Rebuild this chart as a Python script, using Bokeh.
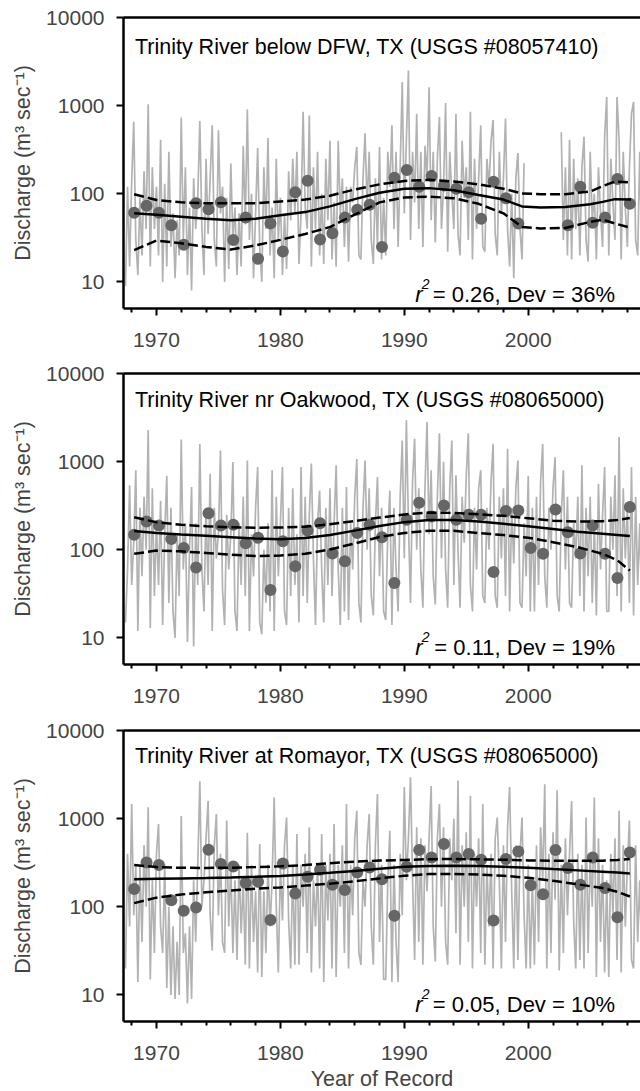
import numpy as np
from bokeh.plotting import figure
from bokeh.models import Range1d, FixedTicker, PrintfTickFormatter, LinearAxis, Label
from bokeh.layouts import column
from bokeh.embed import file_html
from bokeh.resources import INLINE

nan = float("nan")
FONT = "Liberation Sans"

# ---------------- data ----------------
# daily discharge trace (m3/s), read off as 6 samples per year starting 1967.5
DAILY_START = 1967.5
DAILY_PER_YEAR = 6

dfw_daily = [
    9, 120, 15, 140, 655, 30,        # 1968
    12, 90, 20, 180, 40, 1040,       # 1969
    15, 200, 40, 120, 20, 410,       # 1970
    10, 130, 15, 300, 25, 60,        # 1971
    11, 50, 20, 735, 30, 200,        # 1972
    12, 70, 8, 150, 40, 90,          # 1973
    670, 40, 12, 250, 35, 150,       # 1974
    600, 30, 15, 525, 60, 120,       # 1975
    10, 90, 14, 220, 30, 70,         # 1976
    12, 60, 15, 350, 45, 905,        # 1977
    30, 100, 11, 60, 330, 25,        # 1978
    10, 200, 40, 430, 20, 70,        # 1979
    11, 250, 30, 90, 12, 60,         # 1980
    14, 180, 50, 250, 60, 300,       # 1981
    16, 60, 850, 70, 40, 775,        # 1982
    15, 200, 40, 300, 20, 100,       # 1983
    16, 250, 50, 400, 18, 80,        # 1984
    15, 400, 60, 150, 25, 120,       # 1985
    17, 120, 80, 200, 340, 20,       # 1986
    18, 150, 485, 70, 300, 30,       # 1987
    16, 150, 25, 340, 18, 90,        # 1988
    20, 300, 120, 600, 40, 300,      # 1989
    25, 200, 1860, 60, 400, 2500,    # 1990
    30, 300, 80, 810, 40, 300,       # 1991
    25, 350, 150, 1620, 50, 300,     # 1992
    28, 250, 745, 40, 120, 1070,     # 1993
    22, 300, 100, 40, 810, 35,       # 1994
    20, 400, 90, 200, 30, 850,       # 1995
    18, 250, 40, 150, 600, 25,       # 1996
    22, 250, 120, 400, 685, 35,      # 1997
    20, 300, 60, 150, 715, 40,       # 1998
    15, 100, 11, 150, 290, 40,       # 1999
    18, 222, nan, nan, nan, nan,     # 2000
    nan, nan, nan, nan, nan, nan,    # 2001
    nan, nan, nan, nan, nan, nan,    # 2002
    nan, 500, 30, 200, 20, 410,      # 2003
    18, 250, 40, 150, 20, 200,       # 2004
    445, 30, 17, 300, 50, 100,       # 2005
    18, 200, 60, 25, 445, 1250,      # 2006
    20, 250, 80, 30, 1250, 400,      # 2007
    18, 300, 70, 25, 200, 810,       # 2008
    1100, 30, 20, 300, 20, 100,      # 2009
]

oak_daily = [
    15, 60, 540, 40, 120, 800,       # 1968
    12, 300, 50, 400, 100, 2290,     # 1969
    13, 500, 30, 200, 40, 360,       # 1970
    14, 150, 690, 25, 300, 20,       # 1971
    10, 150, 30, 1780, 60, 200,      # 1972
    9, 100, 515, 8, 200, 40,         # 1973
    1590, 60, 20, 300, 40, 730,      # 1974
    12, 300, 80, 150, 1340, 35,      # 1975
    14, 250, 60, 150, 990, 20,       # 1976
    12, 200, 40, 400, 30, 1030,      # 1977
    12, 150, 50, 300, 870, 15,       # 1978
    11, 100, 25, 200, 20, 800,       # 1979
    12, 400, 50, 200, 870, 20,       # 1980
    14, 300, 30, 500, 40, 150,       # 1981
    15, 870, 30, 400, 25, 250,       # 1982
    950, 80, 14, 200, 470, 60,       # 1983
    15, 300, 40, 500, 30, 200,       # 1984
    910, 60, 14, 300, 20, 515,       # 1985
    16, 200, 60, 400, 1070, 25,      # 1986
    15, 300, 1030, 100, 500, 30,     # 1987
    18, 200, 670, 50, 300, 20,       # 1988
    16, 150, 470, 14, 300, 60,       # 1989
    20, 400, 1740, 80, 2950, 200,    # 1990
    25, 600, 1820, 100, 500, 60,     # 1991
    22, 500, 2820, 150, 800, 50,     # 1992
    24, 400, 2100, 80, 1000, 60,     # 1993
    22, 500, 1740, 40, 700, 100,     # 1994
    22, 400, 120, 700, 2100, 40,     # 1995
    20, 300, 60, 500, 800, 30,       # 1996
    25, 300, 100, 600, 1590, 30,     # 1997
    22, 400, 80, 500, 30, 1400,      # 1998
    20, 300, 70, 500, 1030, 25,      # 1999
    22, 200, 50, 690, 20, 300,       # 2000
    20, 400, 40, 600, 1590, 50,      # 2001
    22, 300, 100, 500, 1120, 30,     # 2002
    20, 250, 800, 60, 400, 25,       # 2003
    22, 200, 80, 400, 30, 910,       # 2004
    20, 300, 50, 400, 25, 200,       # 2005
    18, 560, 60, 250, 870, 20,       # 2006
    20, 400, 100, 700, 30, 1900,     # 2007
    20, 500, 80, 300, 25, 870,       # 2008
    18, 400, 40, 200, 20, 150,       # 2009
]

rom_daily = [
    20, 400, 60, 1470, 80, 300,      # 1968
    14, 300, 40, 500, 100, 1350,     # 1969
    15, 200, 30, 400, 870, 60,       # 1970
    30, 300, 12, 100, 10, 60,        # 1971
    9, 40, 10, 1070, 30, 50,         # 1972
    8, 60, 9, 200, 40, 300,          # 1973
    2650, 100, 200, 600, 1590, 80,   # 1974
    32, 500, 1130, 80, 400, 40,      # 1975
    30, 950, 60, 300, 30, 200,       # 1976
    25, 300, 50, 200, 22, 690,       # 1977
    20, 300, 40, 150, 18, 515,       # 1978
    16, 150, 30, 300, 60, 200,       # 1979
    1740, 100, 18, 300, 70, 500,     # 1980
    1030, 70, 20, 300, 22, 670,      # 1981
    22, 300, 100, 400, 30, 800,      # 1982
    18, 200, 60, 300, 20, 670,       # 1983
    14, 300, 70, 400, 20, 870,       # 1984
    16, 300, 100, 500, 30, 1470,     # 1985
    20, 300, 80, 600, 1230, 30,      # 1986
    22, 200, 100, 500, 1130, 60,     # 1987
    22, 500, 1900, 40, 300, 15,      # 1988
    15, 200, 730, 14, 300, 40,       # 1989
    14, 400, 80, 2290, 200, 600,     # 1990
    2950, 200, 25, 800, 40, 600,     # 1991
    22, 500, 150, 600, 2350, 60,     # 1992
    24, 600, 1470, 100, 800, 40,     # 1993
    22, 600, 200, 1000, 50, 2700,    # 1994
    22, 500, 100, 700, 40, 1820,     # 1995
    20, 400, 100, 600, 30, 1470,     # 1996
    22, 300, 60, 400, 20, 600,       # 1997
    1030, 200, 20, 500, 40, 800,     # 1998
    2290, 150, 20, 500, 25, 400,     # 1999
    1030, 80, 20, 300, 20, 200,      # 2000
    22, 500, 40, 800, 200, 2460,     # 2001
    20, 400, 30, 700, 120, 2100,     # 2002
    19, 300, 30, 600, 80, 400,       # 2003
    1590, 70, 20, 400, 25, 300,      # 2004
    20, 1030, 30, 400, 100, 1740,    # 2005
    16, 600, 40, 300, 18, 200,       # 2006
    16, 400, 80, 600, 25, 1230,      # 2007
    18, 500, 60, 300, 950, 25,       # 2008
    20, 500, 40, 200, 25, 150,       # 2009
]

# annual mean discharge (points)
MEAN_OFFSET = 0.2
dfw_years = list(range(1968, 2000)) + list(range(2003, 2009))
dfw_mean = [61, 73, 61, 44, 26.4, 78, 67, 80, 30, 54,
            18.3, 46, 22.2, 104, 141, 30.3, 35.8, 54, 66, 75,
            25, 152, 186, 120, 159, 124, 114, 104, 52, 137,
            89, 46,
            44, 120, 47, 54, 147, 77]
all_years = list(range(1968, 2009))
oak_mean = [148, 210, 189, 133, 105, 63, 260, 189, 192, 119,
            137, 35, 125, 65, 166, 200, 91, 74, 155, 192,
            139, 42, 219, 342, 239, 319, 219, 250, 250, 56,
            275, 280, 105, 90, 287, 158, 91, 189, 90, 48, 305]
rom_mean = [159, 318, 298, 119, 90, 98, 445, 305, 287, 186,
            192, 71, 310, 142, 219, 263, 178, 155, 245, 280,
            206, 79, 285, 441, 363, 515, 363, 397, 342, 70,
            348, 425, 176, 139, 441, 275, 178, 363, 163, 76, 414]

# fitted trend and confidence bands
dfw_trend_years = [1968.2, 1970, 1972, 1974, 1976, 1978, 1980, 1982, 1984, 1986, 1988, 1990,
                   1992, 1994, 1996, 1998, 1999.5, 2001, 2003, 2005, 2006, 2007, 2008.3]
dfw_fit = [60, 58, 55, 52, 50, 52, 57, 62, 72, 87, 103, 114, 116, 110, 97, 86, 72, 70, 71, 76, 81, 87, 86]
dfw_upper = [99, 85, 80, 78, 78, 78, 82, 86, 95, 112, 128, 140, 144, 138, 128, 114, 101, 99, 99, 106, 122, 138, 135]
dfw_lower = [23, 29.5, 27.5, 25, 23.3, 26, 30, 35, 42, 58, 80, 91, 93, 89, 77, 60, 42, 40.5, 41, 48, 51, 46, 41]

trend_years = [1968.2, 1970, 1972, 1974, 1976, 1978, 1980, 1982, 1984, 1986, 1988, 1990,
               1992, 1994, 1996, 1998, 2000, 2002, 2004, 2006, 2007.2, 2008.2]
oak_fit = [163, 155, 149, 144, 139, 134, 132, 136, 147, 165, 186, 206, 218, 218, 210, 197, 185, 172, 160, 152, 147, 143]
oak_upper = [234, 205, 192, 185, 180, 178, 179, 183, 195, 212, 232, 252, 265, 262, 253, 243, 228, 214, 209, 211, 218, 229]
oak_lower = [90, 98, 96, 92, 88, 85, 86, 90, 101, 118, 140, 155, 165, 164, 155, 147, 137, 122, 107, 90, 76, 58]
rom_fit = [206, 208, 210, 212, 215, 219, 224, 232, 243, 255, 270, 284, 291, 292, 290, 285, 278, 268, 259, 250, 245, 239]
rom_upper = [298, 282, 277, 276, 278, 282, 288, 298, 312, 325, 335, 340, 347, 348, 346, 342, 336, 333, 333, 334, 340, 348]
rom_lower = [110, 127, 138, 146, 153, 160, 166, 174, 183, 195, 210, 225, 235, 236, 232, 225, 213, 197, 180, 163, 148, 131]

titles = ["Trinity River below DFW, TX (USGS #08057410)",
          "Trinity River nr Oakwood, TX (USGS #08065000)",
          "Trinity River at Romayor, TX (USGS #08065000)"]
stats = ["= 0.26, Dev = 36%", "= 0.11, Dev = 19%", "= 0.05, Dev = 10%"]

x_major = [1970, 1980, 1990, 2000]
x_minor = [y for y in range(1968, 2010, 2) if y not in x_major]
y_major = [10, 100, 1000, 10000]


def panel(title, stat, daily, pyears, pmean, tyears, fit, lo, hi,
          height, top_border, bottom, xlabel, title_y, stat_y):
    p = figure(width=640, height=height,
               x_range=Range1d(1967.34, 2009.06), y_range=Range1d(5, 10000),
               y_axis_type="log", output_backend="svg", toolbar_location=None,
               min_border_left=123, min_border_right=0, min_border_top=top_border,
               min_border_bottom=bottom)
    p.outline_line_color = None
    p.xgrid.visible = False
    p.ygrid.visible = False
    p.background_fill_color = "white"
    p.border_fill_color = "white"

    t = DAILY_START + np.arange(len(daily)) / DAILY_PER_YEAR
    p.line(t, np.array(daily, dtype=float), line_color="#b2b2b2", line_width=1.7)
    p.scatter(np.array(pyears, dtype=float) + MEAN_OFFSET, pmean, size=12,
              fill_color="#666666", line_color=None)
    p.line(tyears, hi, line_color="black", line_width=2.5, line_dash="10 4")
    p.line(tyears, lo, line_color="black", line_width=2.5, line_dash="10 4")
    p.line(tyears, fit, line_color="black", line_width=2.5)

    ax = p.xaxis[0]
    ax.ticker = FixedTicker(ticks=x_major, minor_ticks=x_minor)
    ax.major_tick_in = 0
    ax.major_tick_out = 7
    ax.minor_tick_in = 0
    ax.minor_tick_out = 4
    ax.axis_line_width = 2.5
    ax.major_tick_line_width = 2
    ax.minor_tick_line_width = 2
    ax.major_label_text_font = FONT
    ax.major_label_text_font_size = "21px"
    ax.major_label_standoff = 17
    if xlabel:
        ax.axis_label = "Year of Record"
        ax.axis_label_text_font = FONT
        ax.axis_label_text_font_size = "21.5px"
        ax.axis_label_text_font_style = "normal"
        ax.axis_label_standoff = 4

    ay = p.yaxis[0]
    ay.ticker = FixedTicker(ticks=y_major, minor_ticks=[])
    ay.formatter = PrintfTickFormatter(format="%d")
    ay.major_tick_in = 0
    ay.major_tick_out = 7
    ay.axis_line_width = 2.5
    ay.major_tick_line_width = 2
    ay.major_label_text_font = FONT
    ay.major_label_text_font_size = "21px"
    ay.major_label_standoff = 12
    ay.axis_label = "Discharge (m\u00b3 sec\u207b\u00b9)"
    ay.axis_label_text_font = FONT
    ay.axis_label_text_font_size = "21.5px"
    ay.axis_label_text_font_style = "normal"
    ay.axis_label_standoff = 8

    top = LinearAxis(ticker=FixedTicker(ticks=[], minor_ticks=[]),
                     major_label_text_font_size="0px", major_label_standoff=0,
                     major_tick_in=0, major_tick_out=0, minor_tick_in=0, minor_tick_out=0,
                     axis_line_width=2.5)
    p.add_layout(top, "above")

    p.add_layout(Label(x=1968.26, y=title_y, text=title, text_font=FONT,
                       text_font_size="21.5px", text_align="left",
                       text_baseline="alphabetic", text_color="black"))
    p.add_layout(Label(x=2007.0, y=stat_y, text=stat, text_font=FONT,
                       text_font_size="22px", text_align="right",
                       text_baseline="alphabetic", text_color="black"))
    p.add_layout(Label(x=2007.0, y=stat_y, x_offset=-185.5, y_offset=10, text="2",
                       text_font=FONT, text_font_size="14px", text_font_style="italic",
                       text_align="right", text_baseline="alphabetic", text_color="black"))
    p.add_layout(Label(x=2007.0, y=stat_y, x_offset=-192.5, text="r",
                       text_font=FONT, text_font_size="22px", text_font_style="italic",
                       text_align="right", text_baseline="alphabetic", text_color="black"))
    return p


# frames: 17-308, 373-664, 730-1021 (page pixels)
p1 = panel(titles[0], stats[0], dfw_daily, dfw_years, dfw_mean,
           dfw_trend_years, dfw_fit, dfw_lower, dfw_upper,
           358, 17, 50, False, 4604, 7.21)
p2 = panel(titles[1], stats[1], oak_daily, all_years, oak_mean,
           trend_years, oak_fit, oak_lower, oak_upper,
           356, 15, 50, False, 4977, 7.80)
p3 = panel(titles[2], stats[2], rom_daily, all_years, rom_mean,
           trend_years, rom_fit, rom_lower, rom_upper,
           387, 16, 80, True, 5106, 7.80)

layout = column(p1, p2, p3)
template = ("{% block preamble %}<style>html, body { overflow: hidden; margin: 0; "
            "padding: 0; }</style>{% endblock %}")
open("out.html", "w").write(file_html(layout, INLINE, template=template))
